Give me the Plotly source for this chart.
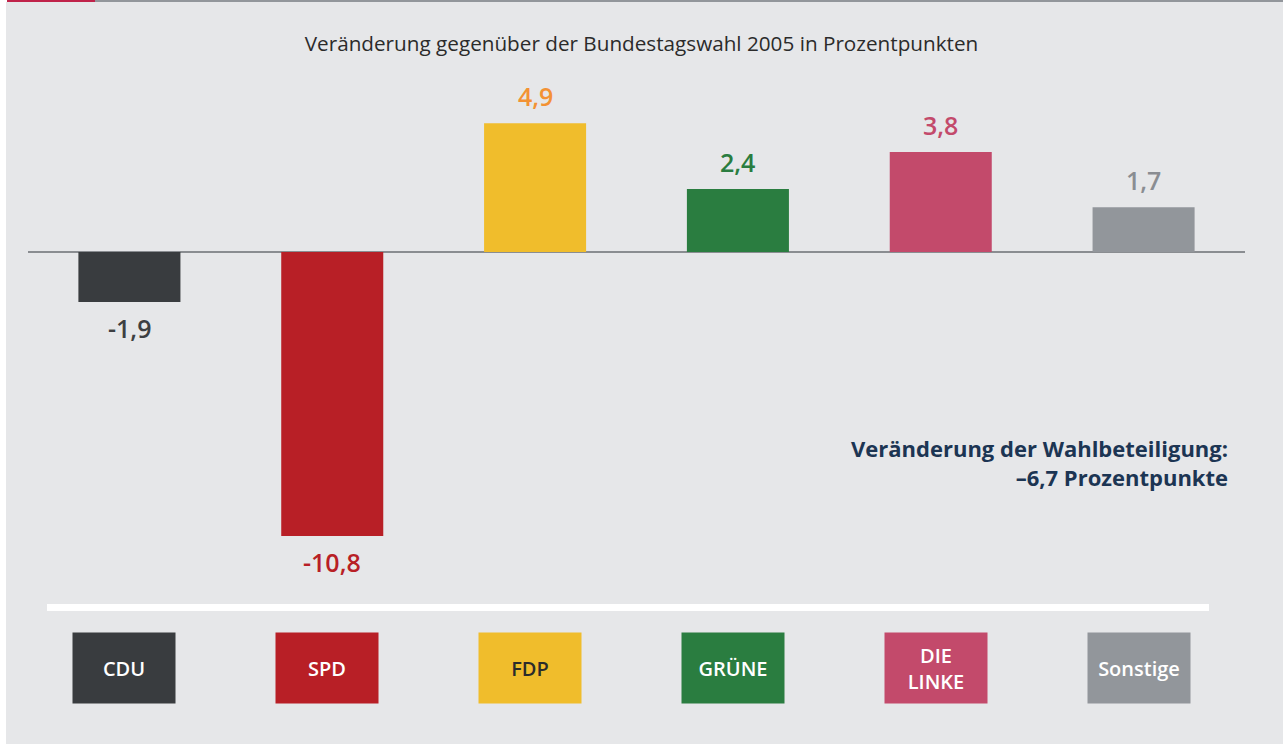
"""Veränderung gegenüber der Bundestagswahl 2005."""

import plotly.graph_objects as go

PARTIES = ["CDU", "SPD", "FDP", "GRÜNE", "DIE<br>LINKE", "Sonstige"]
CHANGE = [-1.9, -10.8, 4.9, 2.4, 3.8, 1.7]
VALUE_TEXT = ["-1,9", "-10,8", "4,9", "2,4", "3,8", "1,7"]
BAR_COLORS = ["#393C3F", "#B81F26", "#F0BD2C", "#2A7D40", "#C34A6B", "#92969B"]
LABEL_COLORS = ["#3D3F42", "#B81F26", "#F39234", "#2A7D40", "#C34A6B", "#8A8D92"]
BOX_TEXT_COLORS = ["white", "white", "#2B2B2B", "white", "white", "white"]

BG = "#E6E7E9"
NAVY = "#1C3553"

W, H = 1283, 744
L, R, T, B = 28, 38, 60, 144
PW, PH = W - L - R, H - T - B


def px_x(px):
    return (px - L) / PW


def px_y(py):
    return (H - B - py) / PH


fig = go.Figure()
fig.add_trace(
    go.Bar(
        x=list(range(len(PARTIES))),
        y=CHANGE,
        marker=dict(color=BAR_COLORS, line=dict(width=0)),
        width=0.503,
        hoverinfo="skip",
    )
)

# Wertebeschriftungen über / unter den Balken
for i, (v, t, c) in enumerate(zip(CHANGE, VALUE_TEXT, LABEL_COLORS)):
    fig.add_annotation(
        x=i, y=v, text=t, showarrow=False,
        yanchor="bottom" if v > 0 else "top",
        yshift=8 if v > 0 else -7,
        font=dict(family="Open Sans", size=25, color=c, weight=600),
    )

# farbige Parteikästchen unten
for i, (p, bc, tc) in enumerate(zip(PARTIES, BAR_COLORS, BOX_TEXT_COLORS)):
    fig.add_annotation(
        x=i, xref="x", y=px_y(668), yref="paper", yanchor="middle",
        text=p, showarrow=False,
        xshift=-5, width=102, height=70, bgcolor=bc, borderpad=0,
        valign="middle", align="center",
        font=dict(family="Open Sans", size=20, color=tc, weight=600),
    )

fig.add_annotation(
    x=px_x(1230), xref="paper", y=px_y(462), yref="paper",
    text="Veränderung der Wahlbeteiligung:<br>–6,7 Prozentpunkte",
    showarrow=False, xanchor="right", yanchor="middle", align="right",
    font=dict(family="Open Sans", size=22, color=NAVY, weight=700),
)

shapes = [
    # weißer Rand links
    dict(type="rect", xref="paper", yref="paper", x0=px_x(0), x1=px_x(6),
         y0=px_y(744), y1=px_y(0), fillcolor="white", line_width=0),
    # Akzentleiste oben
    dict(type="rect", xref="paper", yref="paper", x0=px_x(0), x1=px_x(7),
         y0=px_y(2), y1=px_y(0), fillcolor="white", line_width=0),
    dict(type="rect", xref="paper", yref="paper", x0=px_x(7), x1=px_x(95),
         y0=px_y(2), y1=px_y(0), fillcolor="#C0234A", line_width=0),
    dict(type="rect", xref="paper", yref="paper", x0=px_x(95), x1=px_x(1283),
         y0=px_y(2), y1=px_y(0), fillcolor="#92969B", line_width=0),
    # weiße Trennlinie über den Kästchen
    dict(type="rect", xref="paper", yref="paper", x0=px_x(47), x1=px_x(1209),
         y0=px_y(611), y1=px_y(604), fillcolor="white", line_width=0),
]

fig.update_layout(
    width=W, height=H,
    margin=dict(l=L, r=R, t=T, b=B),
    paper_bgcolor=BG, plot_bgcolor=BG,
    showlegend=False,
    shapes=shapes,
    title=dict(
        text="Veränderung gegenüber der Bundestagswahl 2005 in Prozentpunkten",
        x=0.5, xanchor="center", y=1 - 44 / H, yanchor="middle",
        font=dict(family="Open Sans", size=20.7, color="#2B2B2B"),
    ),
)
fig.update_xaxes(range=[-0.5, 5.5], visible=False, fixedrange=True)
fig.update_yaxes(
    range=[-(H - B - 252) / 26.3, (252 - T) / 26.3],
    showgrid=False, showticklabels=False, zeroline=True,
    zerolinecolor="#8A8D91", zerolinewidth=2, fixedrange=True,
)

fig.write_html(
    "out.html",
    config={"displayModeBar": False},
    post_script="document.body.style.margin='0';",
)
